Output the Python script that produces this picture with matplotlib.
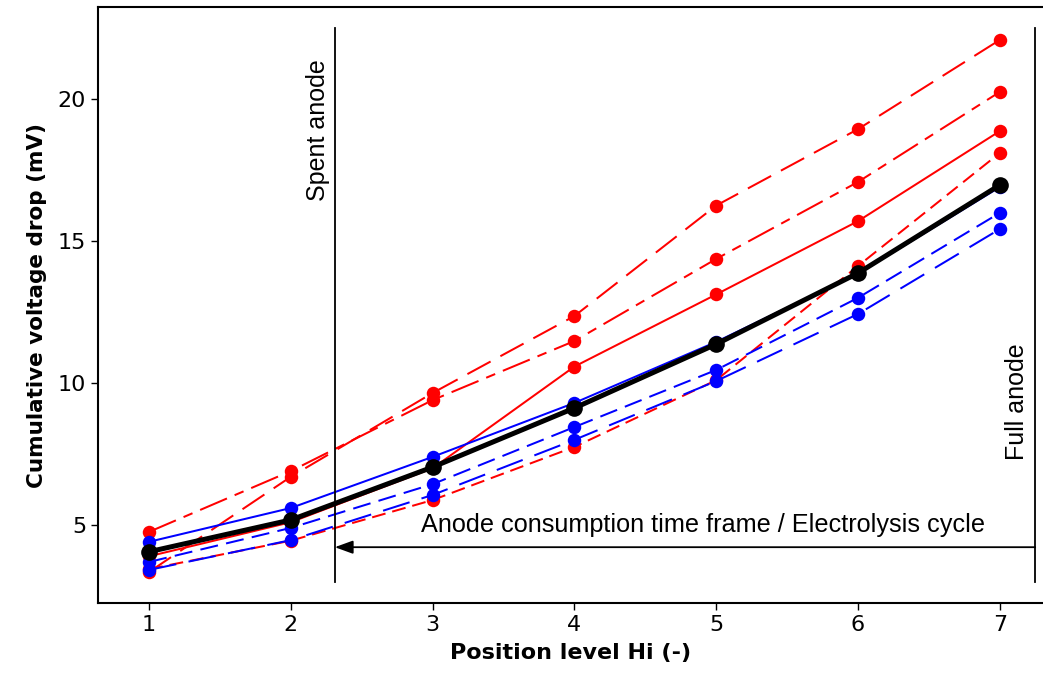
import numpy as np
import matplotlib
matplotlib.use('Agg')
import matplotlib.pyplot as plt

##### ---------------------- data
positions = [1, 2, 3, 4, 5, 6, 7]
xtick_labels = ['1', '2', '3', '4', '5', '6', '7']
ytick_values = [5, 10, 15, 20]

red_longdash = [3.35, 6.7, 9.65, 12.36, 16.25, 18.94, 22.08]
red_dashdot = [4.76, 6.9, 9.4, 11.48, 14.37, 17.08, 20.25]
red_solid = [3.9, 5.1, 7.0, 10.58, 13.12, 15.7, 18.87]
red_shortdash = [3.45, 4.45, 5.88, 7.75, 10.1, 14.12, 18.1]

blue_solid = [4.41, 5.6, 7.4, 9.3, 11.45, 13.85, 16.9]
blue_shortdash = [3.7, 4.9, 6.44, 8.45, 10.46, 13.0, 15.99]
blue_longdash = [3.42, 4.47, 6.06, 8.0, 10.07, 12.43, 15.42]

mean_values = [4.06, 5.18, 7.04, 9.12, 11.37, 13.87, 16.97]

spent_x = 2.31
full_x = 7.25
arrow_y = 4.22


def main():
	plt.rcParams['lines.scale_dashes'] = False
	fig = plt.figure(figsize=(10.43, 6.81), dpi=100)
	ax = fig.add_axes([0.094, 0.1145, 0.906, 0.8752])

	ms = 9.7
	lw = 1.45
	# red series
	ax.plot(positions, red_shortdash, '-', color='red', lw=lw, dashes=(10, 5), marker='o', ms=ms, mec='none', zorder=2)
	ax.plot(positions, red_solid, '-', color='red', lw=lw, marker='o', ms=ms, mec='none', zorder=2)
	ax.plot(positions, red_dashdot, '-', color='red', lw=lw, dashes=(21, 6, 7, 6), marker='o', ms=ms, mec='none', zorder=2)
	ax.plot(positions, red_longdash, '-', color='red', lw=lw, dashes=(19, 8), marker='o', ms=ms, mec='none', zorder=2)
	# blue series
	ax.plot(positions, blue_longdash, '-', color='blue', lw=lw, dashes=(20, 9), marker='o', ms=ms, mec='none', zorder=3)
	ax.plot(positions, blue_shortdash, '-', color='blue', lw=lw, dashes=(13, 6), marker='o', ms=ms, mec='none', zorder=3)
	ax.plot(positions, blue_solid, '-', color='blue', lw=lw, marker='o', ms=ms, mec='none', zorder=3)
	# mean
	ax.plot(positions, mean_values, '-', color='black', lw=3.6, marker='o', ms=12, mec='none', zorder=5)

	# anode markers
	ax.plot([spent_x, spent_x], [2.99, 22.5], color='black', lw=1.3, zorder=4)
	ax.plot([full_x, full_x], [2.99, 22.5], color='black', lw=1.3, zorder=4)
	ax.annotate('', xy=(spent_x, arrow_y), xytext=(full_x, arrow_y),
		arrowprops=dict(arrowstyle='-|>,head_length=1.1,head_width=0.4', color='black', lw=1.3,
			shrinkA=0, shrinkB=0), zorder=4)

	tfont = ['Liberation Sans', 'DejaVu Sans']
	ax.text(2.19, 18.9, 'Spent anode', rotation=90, ha='center', va='center', fontsize=18, family=tfont)
	ax.text(7.12, 9.33, 'Full anode', rotation=90, ha='center', va='center', fontsize=18, family=tfont)
	ax.text(4.91, 5.0, 'Anode consumption time frame / Electrolysis cycle', ha='center', va='center',
		fontsize=18.2, family=tfont)

	ax.set_xlim(0.64, 7.305)
	ax.set_ylim(2.254, 23.24)
	ax.set_xticks(positions)
	ax.set_xticklabels(xtick_labels, fontsize=16, family='DejaVu Sans')
	ax.set_yticks(ytick_values)
	ax.set_yticklabels([str(v) for v in ytick_values], fontsize=16, family='DejaVu Sans')
	ax.tick_params(which='major', direction='out', length=5, width=1, color='black')

	ax.set_xlabel('Position level Hi (-)', fontsize=16, fontweight='bold', family='DejaVu Sans', labelpad=6)
	ax.set_ylabel('Cumulative voltage drop (mV)', fontsize=15.5, fontweight='bold', family='DejaVu Sans', labelpad=8)

	for sp in ax.spines.values():
		sp.set_linewidth(1.5)
	ax.spines['right'].set_visible(False)

	plt.savefig('out.png', dpi=100)
	plt.close()


if __name__ == '__main__':
	main()
